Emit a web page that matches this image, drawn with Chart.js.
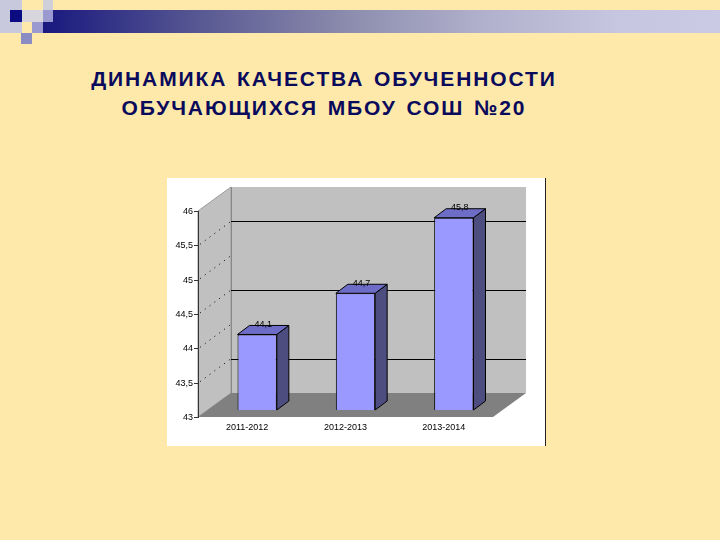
<!DOCTYPE html>
<html>
<head>
<meta charset="utf-8">
<script src="https://cdn.jsdelivr.net/npm/chart.js@4/dist/chart.umd.min.js"></script>
<style>
  html, body { margin: 0; padding: 0; }
  body { width: 720px; height: 540px; background: #fee9ab; position: relative; overflow: hidden; font-family: "Liberation Sans", Arial, sans-serif; }
  .sq { position: absolute; }
  #band { position: absolute; left: 32px; top: 10px; width: 688px; height: 23px;
    background: linear-gradient(to right, #14147e 0%, #2a2a84 8%, #5a5a94 25%, #8a8aac 45%, #b0b0cc 65%, #c6c6e0 85%, #cacae4 100%); }
  #title { position: absolute; left: 0; top: 65px; width: 648px; text-align: center;
    font-weight: bold; font-size: 21px; line-height: 28.5px; color: #0a0a5c;
    letter-spacing: 1.9px; word-spacing: 2px; }
  #box { position: absolute; left: 167px; top: 178px; width: 378px; height: 268px; background: #fff; border-right: 1px solid #222; }
  #myChart { position: absolute; left: 0; top: 0; }
</style>
</head>
<body>
<div id="band"></div>
<div class="sq" style="left:0;top:0;width:22px;height:33px;background:#c9c9de"></div>
<div class="sq" style="left:10px;top:10px;width:12px;height:12px;background:#0c0c82"></div>
<div class="sq" style="left:22px;top:10px;width:21px;height:12px;background:#d6d6dc"></div>
<div class="sq" style="left:43px;top:0;width:10px;height:10px;background:#cfcfda"></div>
<div class="sq" style="left:43px;top:10px;width:10px;height:12px;background:#9a9ad0"></div>
<div class="sq" style="left:32px;top:22px;width:11px;height:11px;background:#9a9ad0"></div>
<div class="sq" style="left:21px;top:33px;width:11px;height:11px;background:#8c8cc4"></div>

<div id="title">ДИНАМИКА КАЧЕСТВА ОБУЧЕННОСТИ<br>ОБУЧАЮЩИХСЯ МБОУ СОШ №20</div>

<div id="box"><canvas id="myChart" width="378" height="268"></canvas></div>

<script>
var ctx = document.getElementById('myChart').getContext('2d');

var years = ["2011-2012", "2012-2013", "2013-2014"];
var quality = [44.1, 44.7, 45.8];
var yTicks = [43, 43.5, 44, 44.5, 45, 45.5, 46];
var backGrid = [43.5, 44.5, 45.5];

var font = '9px "Liberation Sans", Arial, sans-serif';
var wallDx = 33, wallDy = -24;   // depth of the walls
var barDx = 12, barDy = -9;      // depth of each bar
var shiftX = 10, shiftY = -7;    // bars stand inside the floor

function comma(v) { return String(v).replace('.', ','); }

var frame3d = {
  id: 'frame3d',
  beforeDatasetsDraw: function(chart) {
    var c = chart.ctx, a = chart.chartArea;
    var ys = chart.scales.y, xs = chart.scales.x;
    c.save();
    // side wall
    c.fillStyle = '#c0c0c0';
    c.beginPath();
    c.moveTo(a.left, a.top); c.lineTo(a.left + wallDx, a.top + wallDy);
    c.lineTo(a.left + wallDx, a.bottom + wallDy); c.lineTo(a.left, a.bottom);
    c.closePath(); c.fill();
    c.strokeStyle = '#999'; c.lineWidth = 1; c.stroke();
    // back wall
    c.fillRect(a.left + wallDx, a.top + wallDy, a.right - a.left, a.bottom - a.top);
    c.strokeStyle = '#888';
    c.beginPath();
    c.moveTo(a.left + wallDx + 0.5, a.top + wallDy); c.lineTo(a.left + wallDx + 0.5, a.bottom + wallDy);
    c.stroke();
    // back gridlines
    c.strokeStyle = '#000';
    backGrid.forEach(function(v) {
      var y = Math.round(ys.getPixelForValue(v) + wallDy) + 0.5;
      c.beginPath(); c.moveTo(a.left + wallDx, y); c.lineTo(a.right + wallDx, y); c.stroke();
    });
    // dotted lines on the side wall
    c.setLineDash([1, 5]);
    c.strokeStyle = '#000';
    yTicks.slice(1, -1).forEach(function(v) {
      var y = ys.getPixelForValue(v);
      c.beginPath(); c.moveTo(a.left + 2, y - 1); c.lineTo(a.left + wallDx, y + wallDy); c.stroke();
    });
    c.setLineDash([]);
    // floor
    c.fillStyle = '#808080';
    c.beginPath();
    c.moveTo(a.left, a.bottom); c.lineTo(a.right, a.bottom);
    c.lineTo(a.right + wallDx, a.bottom + wallDy); c.lineTo(a.left + wallDx, a.bottom + wallDy);
    c.closePath(); c.fill();
    // front axis with ticks
    c.strokeStyle = '#333';
    c.beginPath(); c.moveTo(a.left + 0.5, a.top); c.lineTo(a.left + 0.5, a.bottom + 1); c.stroke();
    c.fillStyle = '#000'; c.font = font; c.textAlign = 'right'; c.textBaseline = 'middle';
    yTicks.forEach(function(v) {
      var y = Math.round(ys.getPixelForValue(v)) + 0.5;
      c.beginPath(); c.moveTo(a.left - 4, y); c.lineTo(a.left, y); c.stroke();
      c.fillText(comma(v), a.left - 5, y);
    });
    // category labels
    c.textAlign = 'center';
    years.forEach(function(t, i) {
      c.fillText(t, xs.getPixelForValue(i), a.bottom + 11);
    });
    c.restore();
    c.save();
    c.translate(shiftX, shiftY);
  },
  afterDatasetsDraw: function(chart) {
    var c = chart.ctx, a = chart.chartArea;
    chart.getDatasetMeta(0).data.forEach(function(bar, i) {
      var l = bar.x - bar.width / 2, r = bar.x + bar.width / 2;
      var base = Math.min(bar.base, a.bottom);
      c.lineWidth = 1; c.strokeStyle = '#000';
      c.fillStyle = '#4d4d80';
      c.beginPath();
      c.moveTo(r, bar.y); c.lineTo(r + barDx, bar.y + barDy);
      c.lineTo(r + barDx, base + barDy); c.lineTo(r, base);
      c.closePath(); c.fill(); c.stroke();
      c.fillStyle = '#6d6dc8';
      c.beginPath();
      c.moveTo(l, bar.y); c.lineTo(l + barDx, bar.y + barDy);
      c.lineTo(r + barDx, bar.y + barDy); c.lineTo(r, bar.y);
      c.closePath(); c.fill(); c.stroke();
      c.fillStyle = '#000'; c.font = font; c.textAlign = 'center'; c.textBaseline = 'middle';
      c.fillText(comma(quality[i]), bar.x + barDx / 2, bar.y + barDy - 1);
    });
    c.restore();
  }
};

var config = {
  type: 'bar',
  data: {
    labels: years,
    datasets: [{
      data: quality,
      base: yTicks[0],
      backgroundColor: '#9999ff',
      borderColor: '#000',
      borderWidth: 1,
      categoryPercentage: 1,
      barPercentage: 0.4
    }]
  },
  options: {
    responsive: false,
    animation: false,
    devicePixelRatio: 1,
    layout: { padding: { left: 31, right: 52, top: 33, bottom: 29 } },
    plugins: { legend: { display: false }, tooltip: { enabled: false }, title: { display: false } },
    scales: {
      x: { display: false },
      y: { display: false, min: 43, max: 46 }
    }
  },
  plugins: [frame3d]
};

var chart = new Chart(ctx, config);
</script>
</body>
</html>
